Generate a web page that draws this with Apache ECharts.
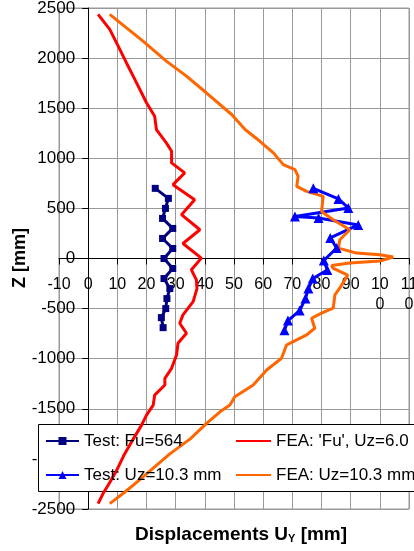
<!DOCTYPE html>
<html>
<head>
<meta charset="utf-8">
<script src="https://cdn.jsdelivr.net/npm/echarts@6/dist/echarts.min.js"></script>
<style>
  html, body { margin: 0; padding: 0; background: #fff; }
  #chart { width: 414px; height: 551px; }
</style>
</head>
<body>
<div id="chart"></div>
<script>
// 系列名称
const seriesNames = ['Test: Fu=564', "FEA: 'Fu', Uz=6.0", 'Test: Uz=10.3 mm', 'FEA: Uz=10.3 mm'];

// 试验 Fu=564 : [位移, Z]
const testFu = [
  [23, 700], [27.5, 600], [26.5, 500], [25.5, 400], [29, 300], [25.5, 200], [29, 100], [26, 0],
  [29, -100], [26, -200], [28, -300], [27, -400], [26.6, -500], [25.1, -590], [25.7, -690]
];

// 有限元 'Fu', Uz=6.0
const feaFu = [
  [3.4, 2437], [7.4, 2287], [10.3, 2120], [13.1, 1954], [16, 1787], [20, 1554], [22.8, 1420],
  [23.4, 1287], [26.8, 1154], [28.6, 1070], [28.6, 954], [33.1, 854], [29.1, 737], [36.5, 587],
  [32, 437], [38.3, 287], [32.5, 150], [38.8, 4], [35.4, -113], [37.1, -213], [37.3, -300],
  [36, -430], [32.5, -563], [31.4, -646], [33.7, -746], [30.8, -846], [30.3, -963], [28.6, -1096],
  [26.3, -1196], [26.3, -1263], [22.8, -1363], [22.3, -1463], [20, -1563], [18.3, -1663],
  [15.5, -1800], [12.5, -1950], [10, -2100], [7.5, -2230], [5.1, -2346], [3.4, -2446]
];

// 试验 Uz=10.3 mm
const testUz = [
  [77.2, 700], [85.8, 595], [89.2, 505], [70.9, 420], [79, 405], [92.6, 335], [83, 205],
  [85.2, 105], [80.8, -20], [82, -115], [77, -200], [75.5, -300], [74.5, -400], [72.5, -520],
  [68.5, -620], [67.3, -715]
];

// 有限元 Uz=10.3 mm
const feaUz = [
  [7.4, 2437], [18.8, 2170], [26.8, 1970], [33.7, 1820], [40.5, 1654], [49.2, 1437], [53.8, 1287],
  [58.9, 1170], [63.5, 1054], [66.9, 937], [70.9, 887], [72, 820], [71.5, 720], [74.9, 670],
  [80.6, 620], [80, 470], [84, 387], [89.7, 287], [86.3, 187], [85.8, 104], [92, 54], [100, 37],
  [104.6, 14], [100, -25], [89.7, -46], [83.5, -70], [83.9, -96], [89, -165], [87, -263],
  [84.6, -363], [84, -496], [80, -546], [76.6, -596], [77.7, -696], [74.9, -763], [70.3, -830],
  [68, -863], [66.3, -996], [61.2, -1113], [56.6, -1263], [50.3, -1380], [48.6, -1463],
  [45.2, -1530], [40.6, -1646], [35, -1800], [28, -1950], [22, -2100], [16, -2250],
  [12.6, -2330], [7.4, -2446]
];

// 坐标轴范围
const xMin = -10, xMax = 110, xStep = 10;
const zMin = -2500, zMax = 2500, zStep = 500;

const font = 'Liberation Sans';
const gLeft = 59, gRight = 5, gTop = 8, gBottom = 42;
const plotW = 414 - gLeft - gRight, plotH = 551 - gTop - gBottom;
// 轴线放在 0 处（用 offset 代替 onZero）
const xAxisOffset = -plotH * (0 - zMin) / (zMax - zMin);
const yAxisOffset = -plotW * (0 - xMin) / (xMax - xMin);

let chart = echarts.init(document.getElementById('chart'));

let option = {
  animation: false,
  textStyle: { fontFamily: font, color: '#000' },
  grid: {
    left: gLeft, right: gRight, top: gTop, bottom: gBottom, outerBoundsMode: 'none',
    show: true, borderColor: '#999', borderWidth: 1
  },
  xAxis: {
    type: 'value', min: xMin, max: xMax, interval: xStep, offset: xAxisOffset,
    axisLine: { onZero: false, lineStyle: { color: '#000', width: 1 } },
    axisTick: { show: true, length: 6, lineStyle: { color: '#000' } },
    axisLabel: {
      margin: 16, fontSize: 16, color: '#000', lineHeight: 20,
      hideOverlap: false,
      // 100、110 在原图中被折成两行
      formatter: v => v >= 100 ? String(v).slice(0, 2) + '\n' + String(v).slice(2) : String(v)
    },
    splitLine: { show: true, lineStyle: { color: '#999' } }
  },
  yAxis: {
    type: 'value', min: zMin, max: zMax, interval: zStep, offset: yAxisOffset,
    axisLine: { show: true, onZero: false, lineStyle: { color: '#000', width: 1 } },
    axisTick: { show: true, length: 6, lineStyle: { color: '#000' } },
    axisLabel: { margin: 13, fontSize: 17, color: '#000', formatter: v => String(v) },
    splitLine: { show: true, lineStyle: { color: '#999' } }
  },
  legend: [
    {
      data: [seriesNames[0], seriesNames[2]], orient: 'vertical',
      left: 45, top: 431, padding: 0, itemGap: 14, itemWidth: 33, itemHeight: 10, z: 6,
      textStyle: { fontSize: 17, color: '#000', fontFamily: font, lineHeight: 20 }
    },
    {
      // 有限元曲线没有标记点，图例只画线
      data: [
        { name: seriesNames[1], itemStyle: { opacity: 0 } },
        { name: seriesNames[3], itemStyle: { opacity: 0 } }
      ],
      orient: 'vertical',
      left: 235, top: 431, padding: 0, itemGap: 14, itemWidth: 35, itemHeight: 10, z: 6,
      textStyle: { fontSize: 17, color: '#000', fontFamily: font, lineHeight: 20 }
    }
  ],
  graphic: [
    {
      type: 'rect', z: 3, shape: { x: 38.5, y: 424.5, width: 400, height: 67 },
      style: { fill: '#fff', stroke: '#000', lineWidth: 1 }
    },
    {
      type: 'text', x: 20, y: 258, rotation: Math.PI / 2,
      style: { text: 'Z [mm]', fontSize: 18, fontWeight: 'bold', fontFamily: font, fill: '#000',
               align: 'center', verticalAlign: 'middle' }
    },
    {
      type: 'text', x: 241, y: 535,
      style: {
        text: '{a|Displacements U}{b|Y}{a| [mm]}', fontFamily: font, fill: '#000',
        align: 'center', verticalAlign: 'middle',
        rich: {
          a: { fontSize: 19, fontWeight: 'bold', fontFamily: font },
          b: { fontSize: 11, fontWeight: 'bold', fontFamily: font, verticalAlign: 'bottom' }
        }
      }
    }
  ],
  series: [
    {
      name: seriesNames[0], type: 'line', data: testFu,
      symbol: 'rect', symbolSize: 7, color: '#000080',
      lineStyle: { width: 3, color: '#000080' }, itemStyle: { color: '#000080' }
    },
    {
      name: seriesNames[1], type: 'line', data: feaFu, symbol: 'none', color: '#ff0000',
      lineStyle: { width: 3, color: '#ff0000' }
    },
    {
      name: seriesNames[2], type: 'line', data: testUz,
      symbol: 'triangle', symbolSize: 10, color: '#0000ff',
      lineStyle: { width: 3, color: '#0000ff' }, itemStyle: { color: '#0000ff' }
    },
    {
      name: seriesNames[3], type: 'line', data: feaUz, symbol: 'none', color: '#ff6600',
      lineStyle: { width: 3, color: '#ff6600' }
    }
  ]
};

chart.setOption(option);
</script>
</body>
</html>
